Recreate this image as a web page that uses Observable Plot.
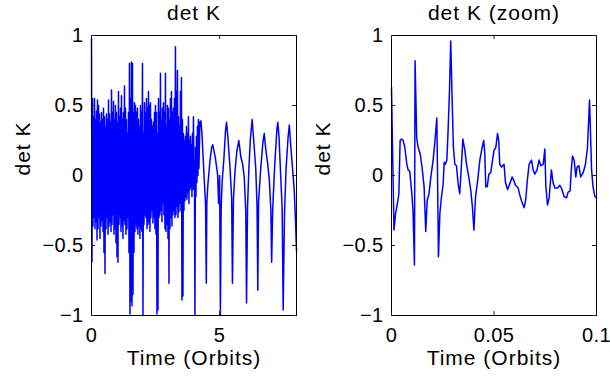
<!DOCTYPE html>
<html><head><meta charset="utf-8">
<script src="https://cdn.jsdelivr.net/npm/d3@7"></script>
<script src="https://cdn.jsdelivr.net/npm/@observablehq/plot@0.6"></script>
<style>
html,body{margin:0;padding:0;background:#fff;}
#chart{position:relative;width:610px;height:380px;overflow:hidden;font-family:"Liberation Sans",Arial,sans-serif;}
#chart svg{position:absolute;top:0;}
#chart svg g[aria-label="text"] text{letter-spacing:1px;}
#chart svg g[aria-label$="tick label"] text{letter-spacing:0.4px;}
</style></head><body><div id="chart"></div>
<script>
// ---- text ----
const titles = ["det K", "det K (zoom)"];
const yLabel = "det K";
const xLabel = "Time (Orbits)";
// ---- ticks ----
const yTicks = [-1, -0.5, 0, 0.5, 1];
const yTickLabels = ["\u22121", "\u22120.5", "0", "0.5", "1"];
const xTicksFull = [0, 5];
const xTickLabelsFull = ["0", "5"];
const xTicksZoom = [0, 0.05, 0.1];
const xTickLabelsZoom = ["0", "0.05", "0.1"];

// ---- full run, dense part: upper / lower swing per sample column (0.039 orbit apart) ----
const denseStep = 0.039;
const denseHi = [
 0.98,0.55,0.42,0.55,0.40,0.46,0.54,0.50,0.44,0.38,
 0.45,0.40,0.48,0.42,0.35,0.44,0.40,0.54,0.44,0.38,
 0.61,0.45,0.53,0.40,0.50,0.45,0.38,0.60,0.42,0.48,
 0.57,0.40,0.45,0.64,0.48,0.40,0.30,0.45,0.80,0.55,
 0.81,0.80,0.45,0.52,0.50,0.45,0.48,0.40,0.35,0.50,
 0.45,0.80,0.30,0.52,0.45,0.55,0.48,0.60,0.50,0.52,
 0.40,0.35,0.38,0.45,0.50,0.45,0.30,0.55,0.45,0.73,
 0.40,0.48,0.52,0.45,0.73,0.35,0.50,0.48,0.40,0.55,
 0.60,0.45,0.48,0.55,0.92,0.60,0.75,0.42,0.35,0.60,
 0.70,0.40,0.30,0.25,0.28,0.35,0.30,0.42,0.25,0.28,
 0.22,0.30,0.42,0.10,0.20,0.28,0.35,0.40];
const denseLo = [
 -0.62,-0.36,-0.30,-0.38,-0.33,-0.46,-0.38,-0.30,-0.45,-0.36,
 -0.32,-0.40,-0.55,-0.70,-0.38,-0.30,-0.42,-0.36,-0.33,-0.40,
 -0.35,-0.28,-0.42,-0.38,-0.48,-0.58,-0.62,-0.35,-0.30,-0.40,
 -0.36,-0.45,-0.32,-0.35,-0.42,-0.38,-0.30,-0.55,-0.99,-0.90,
 -0.93,-0.85,-0.55,-0.40,-0.35,-0.38,-0.42,-0.36,-0.45,-0.38,
 -0.40,-1.00,-0.35,-0.28,-0.30,-0.38,-0.35,-0.33,-0.40,-0.30,
 -0.25,-0.34,-0.30,-0.38,-0.42,-0.99,-0.96,-0.30,-0.28,-0.25,
 -0.33,-0.20,-0.28,-0.38,-0.40,-0.35,-0.45,-0.77,-0.38,-0.30,
 -0.36,-0.28,-0.25,-0.30,-0.28,-0.22,-0.30,-0.26,-0.20,-0.25,
 -0.89,-0.86,-0.25,-0.18,-0.15,-0.17,-0.12,-0.20,-0.10,-0.08,
 -0.15,-0.10,-0.05,-1.00,-0.15,-0.05,0.00,0.05];

// ---- full run, settled part ----
const tailT = [4.23,4.27,4.31,4.38,4.45,4.48,4.50,4.54,4.62,4.69,
 4.73,4.83,4.92,4.96,5.00,5.03,5.06,5.10,5.17,5.23,
 5.27,5.32,5.40,5.47,5.50,5.54,5.60,5.67,5.75,5.83,
 5.90,5.96,6.02,6.05,6.09,6.14,6.20,6.27,6.33,6.41,
 6.46,6.49,6.52,6.60,6.68,6.74,6.80,6.87,6.94,7.00,
 7.03,7.07,7.14,7.23,7.27,7.32,7.38,7.44,7.48,7.53,
 7.59,7.67,7.72,7.78,7.85,7.91,7.95,8.00];
const tailV = [0.38,0.39,0.30,0.04,-0.20,-0.77,-0.20,-0.07,0.10,0.20,
 0.22,0.13,0.01,-0.20,0.00,-1.00,-0.23,-0.04,0.13,0.32,
 0.38,0.28,0.07,-0.16,-0.77,-0.17,0.03,0.17,0.25,0.13,
 0.08,-0.01,-0.25,-0.91,-0.22,0.04,0.26,0.40,0.25,0.05,
 -0.22,-0.82,-0.19,0.04,0.22,0.30,0.19,0.09,-0.03,-0.25,
 -0.62,-0.25,0.04,0.32,0.38,0.27,0.01,-0.23,-0.96,-0.29,
 0.04,0.27,0.36,0.20,0.04,-0.10,-0.27,-0.54];

// ---- zoom (first 0.1 orbit) ----
const zoomT = [0,0.0012,0.002,0.0029,0.0036,0.0042,0.0049,0.0057,0.0065,0.0075,
 0.0081,0.0089,0.0098,0.0105,0.0112,0.0115,0.0123,0.013,0.014,0.0149,
 0.0159,0.0167,0.0174,0.0183,0.0192,0.0203,0.0211,0.0221,0.0224,0.0229,
 0.0236,0.0244,0.0252,0.0257,0.0263,0.027,0.0276,0.0283,0.0289,0.0296,
 0.0302,0.0309,0.0317,0.0325,0.0333,0.0341,0.0348,0.0358,0.0366,0.0377,
 0.0387,0.0395,0.0402,0.041,0.042,0.0431,0.0442,0.045,0.0455,0.046,
 0.0467,0.0475,0.0484,0.05,0.0509,0.0517,0.0523,0.0528,0.0537,0.0549,
 0.0556,0.0566,0.0577,0.0588,0.0598,0.0605,0.0618,0.0626,0.0634,0.0647,
 0.0655,0.0663,0.0671,0.0683,0.0691,0.0699,0.071,0.072,0.0728,0.074,
 0.0748,0.0753,0.0761,0.0769,0.078,0.0788,0.0797,0.081,0.0821,0.0829,
 0.0842,0.0854,0.0861,0.0871,0.0878,0.0883,0.0891,0.0899,0.0905,0.0914,
 0.0923,0.0935,0.0946,0.0956,0.0966,0.0976,0.0983,0.0992,0.1];
const zoomV = [0.63,-0.39,-0.27,-0.20,-0.13,0.25,0.26,0.25,0.20,0.08,
 0.04,0.03,-0.11,-0.25,-0.64,0.82,0.27,0.20,0.155,0.06,
 -0.08,-0.40,-0.18,-0.13,-0.01,0.11,0.23,0.41,0.07,-0.58,
 -0.27,-0.15,-0.06,0.095,0.08,0.11,0.32,0.61,0.96,0.53,
 0.20,0.08,0.07,-0.06,-0.13,0.07,0.26,0.18,0.08,-0.01,
 -0.11,-0.23,-0.39,-0.15,-0.04,0.11,0.20,0.25,0.16,-0.08,
 -0.08,0.01,0.02,0.18,0.20,0.30,0.25,0.08,0.06,0.08,
 -0.05,-0.10,-0.06,-0.01,-0.04,-0.07,-0.09,-0.14,-0.18,-0.23,
 -0.17,-0.03,0.08,0.11,0.04,0.01,0.04,0.11,0.07,0.08,
 0.19,-0.08,-0.21,-0.16,0.04,-0.05,-0.09,-0.09,-0.07,-0.09,
 -0.15,-0.16,-0.12,-0.11,0.06,0.14,0.11,-0.01,0.06,0.07,
 -0.01,0.02,0.08,0.20,0.54,0.04,-0.08,-0.15,-0.16];

// ---- build tables ----
const fullRun = [];
denseHi.forEach((h, i) => {
  fullRun.push({t: i * denseStep, v: h});
  fullRun.push({t: i * denseStep + denseStep / 2, v: denseLo[i]});
});
tailT.forEach((t, i) => fullRun.push({t, v: tailV[i]}));
const zoomRun = zoomT.map((t, i) => ({t, v: zoomV[i]}));

const font = "'Liberation Sans', Arial, Helvetica, sans-serif";
function panel({data, xDomain, xTicks, xTickLabels, title, width, marginRight}) {
  const innerW = 205, innerH = 280, tk = 4;
  return Plot.plot({
    width, height: 380,
    marginLeft: 91, marginRight, marginTop: 35, marginBottom: 65,
    style: {fontFamily: font, fontSize: "20px", background: "transparent", color: "#000", overflow: "visible"},
    x: {domain: xDomain, ticks: xTicks, tickFormat: d => xTickLabels[xTicks.indexOf(d)], tickSize: 0, tickPadding: 12, label: null},
    y: {domain: [-1, 1], ticks: yTicks, tickFormat: d => yTickLabels[yTicks.indexOf(d)], tickSize: 0, tickPadding: 8, label: null},
    marks: [
      Plot.line(data, {x: "t", y: "v", stroke: "#0000ff", strokeWidth: 1.5}),
      Plot.frame({stroke: "#000"}),
      Plot.tickX(xTicks, {x: d => d, insetTop: innerH - tk, stroke: "#222"}),
      Plot.tickX(xTicks, {x: d => d, insetBottom: innerH - tk, stroke: "#222"}),
      Plot.tickY(yTicks, {y: d => d, insetRight: innerW - tk, stroke: "#222"}),
      Plot.tickY(yTicks, {y: d => d, insetLeft: innerW - tk, stroke: "#222"}),
      Plot.text([title], {text: d => d, frameAnchor: "top", lineAnchor: "bottom", dy: -15.5, fontSize: 21}),
      Plot.text([xLabel], {text: d => d, frameAnchor: "bottom", lineAnchor: "bottom", dy: 49, fontSize: 21}),
      Plot.text([yLabel], {text: d => d, frameAnchor: "left", lineAnchor: "bottom", rotate: -90, dx: -62, fontSize: 21})
    ]
  });
}

const left = panel({data: fullRun, xDomain: [0, 8], xTicks: xTicksFull, xTickLabels: xTickLabelsFull, title: titles[0], width: 300, marginRight: 4});
const right = panel({data: zoomRun, xDomain: [0, 0.1], xTicks: xTicksZoom, xTickLabels: xTickLabelsZoom, title: titles[1], width: 310, marginRight: 14});
left.style.left = "0px";
right.style.left = "300px";
const chart = document.getElementById("chart");
chart.appendChild(left);
chart.appendChild(right);
</script>
</body></html>
